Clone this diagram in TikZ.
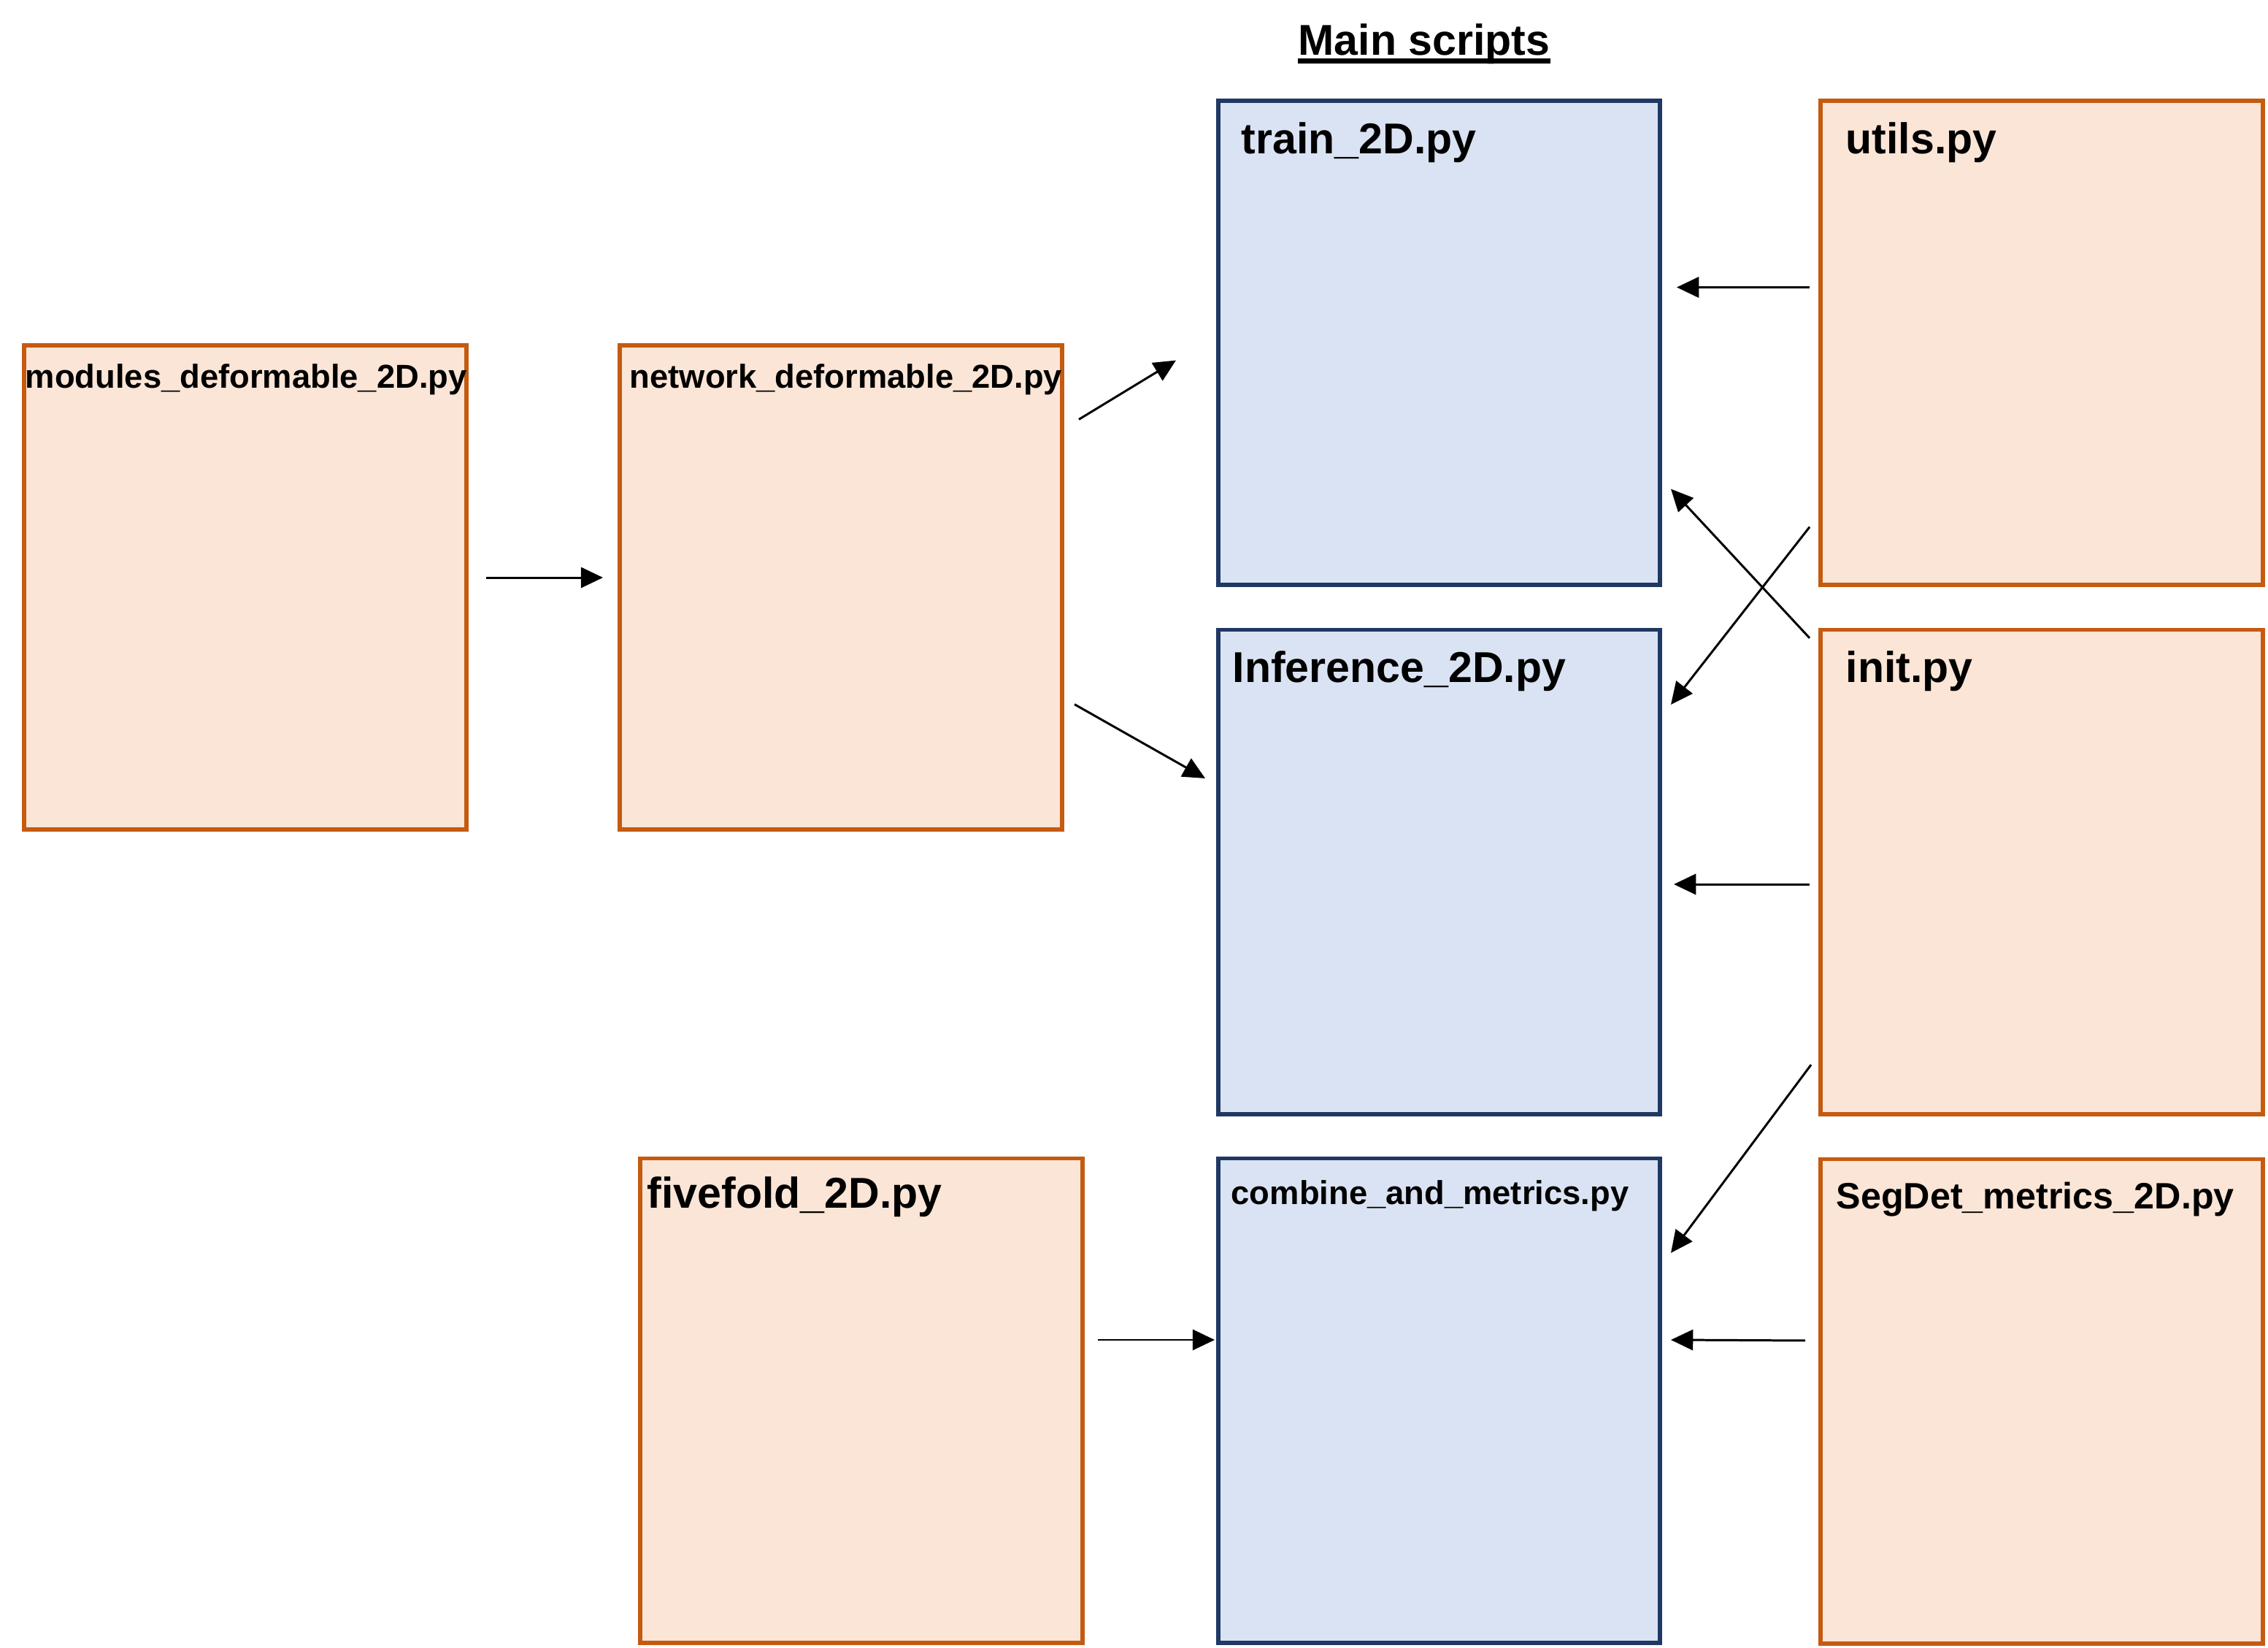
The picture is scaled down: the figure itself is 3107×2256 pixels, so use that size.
\documentclass[tikz,border=0pt]{standalone}
\usepackage{fontspec}
\setmainfont{Liberation Sans}
\usetikzlibrary{arrows.meta}

\definecolor{fileFill}{HTML}{FBE5D6}
\definecolor{fileLine}{HTML}{C55A11}
\definecolor{mainFill}{HTML}{DAE3F3}
\definecolor{mainLine}{HTML}{1F3864}

\tikzset{
  filebox/.style={draw=fileLine, fill=fileFill, line width=1.6pt,
    minimum width=6.06cm, minimum height=6.63cm, inner sep=0pt},
  mainbox/.style={draw=mainLine, fill=mainFill, line width=1.6pt,
    minimum width=6.05cm, minimum height=6.63cm, inner sep=0pt},
  big/.style={anchor=base west, inner sep=0pt, font=\bfseries\fontsize{16.8}{20}\selectfont},
  mid/.style={anchor=base west, inner sep=0pt, font=\bfseries\fontsize{14.3}{17}\selectfont},
  small/.style={anchor=base west, inner sep=0pt, font=\bfseries\fontsize{12.9}{15}\selectfont},
  dep/.style={-{Triangle[length=8.6pt,width=8pt]}, line width=0.85pt, black},
}

\begin{document}
\begin{tikzpicture}[x=0.01cm, y=-0.01cm]
  \useasboundingbox (0,0) rectangle (3107,2256);

  % heading
  \node[anchor=base, inner sep=0pt, font=\bfseries\fontsize{16.8}{20}\selectfont] (title) at (1951,75) {Main scripts};
  \draw[line width=2pt] ([yshift=-0.85mm]title.base west) -- ([yshift=-0.85mm]title.base east);

  % helper modules
  \node[filebox] (modules) at (336,804.5) {};
  \node[filebox] (network) at (1152,804.5) {};
  \node[filebox] (utils) at (2797,469.5) {};
  \node[filebox] (init) at (2797,1194) {};
  \node[filebox] (fivefold) at (1180,1918) {};
  \node[filebox] (segdet) at (2797,1919) {};

  % main scripts
  \node[mainbox] (train) at (1971.5,469.5) {};
  \node[mainbox] (infer) at (1971.5,1194) {};
  \node[mainbox] (combine) at (1971.5,1918) {};

  % file names
  \node[small] (modules-l) at (34,531) {modules\_deformable\_2D.py};
  \node[small] (network-l) at (862,531) {network\_deformable\_2D.py};
  \node[big] (train-l) at (1700,210) {train\_2D.py};
  \node[big] (utils-l) at (2528,210) {utils.py};
  \node[big] (infer-l) at (1688,934) {Inference\_2D.py};
  \node[big] (init-l) at (2528,934) {init.py};
  \node[big] (fivefold-l) at (886,1654) {fivefold\_2D.py};
  \node[small] (combine-l) at (1686,1649) {combine\_and\_metrics.py};
  \node[mid] (segdet-l) at (2515,1655) {SegDet\_metrics\_2D.py};

  % dependencies
  \draw[dep] ([xshift=0.24cm,yshift=0.135cm]modules.east) -- ([xshift=-0.20cm,yshift=0.135cm]network.west);
  \draw[dep] ([xshift=0.20cm,yshift=2.30cm]network.east) -- ([xshift=-0.55cm,yshift=-0.24cm]train.west);
  \draw[dep] ([xshift=0.14cm,yshift=-1.60cm]network.east) -- ([xshift=-0.15cm,yshift=1.28cm]infer.west);
  \draw[dep] ([xshift=-0.12cm,yshift=0.76cm]utils.west) -- ([xshift=0.20cm,yshift=0.76cm]train.east);
  \draw[dep] ([xshift=-0.12cm,yshift=-2.52cm]utils.west) -- ([xshift=0.12cm,yshift=2.29cm]infer.east);
  \draw[dep] ([xshift=-0.12cm,yshift=3.20cm]init.west) -- ([xshift=0.12cm,yshift=-2.00cm]train.east);
  \draw[dep] ([xshift=-0.12cm,yshift=-0.17cm]init.west) -- ([xshift=0.16cm,yshift=-0.17cm]infer.east);
  \draw[dep] ([xshift=-0.10cm,yshift=-2.64cm]init.west) -- ([xshift=0.12cm,yshift=2.02cm]combine.east);
  \draw[dep] ([xshift=0.18cm,yshift=0.83cm]fivefold.east) -- ([xshift=-0.02cm,yshift=0.83cm]combine.west);
  \draw[dep] ([xshift=-0.18cm,yshift=0.83cm]segdet.west) -- ([xshift=0.12cm,yshift=0.83cm]combine.east);
\end{tikzpicture}
\end{document}
